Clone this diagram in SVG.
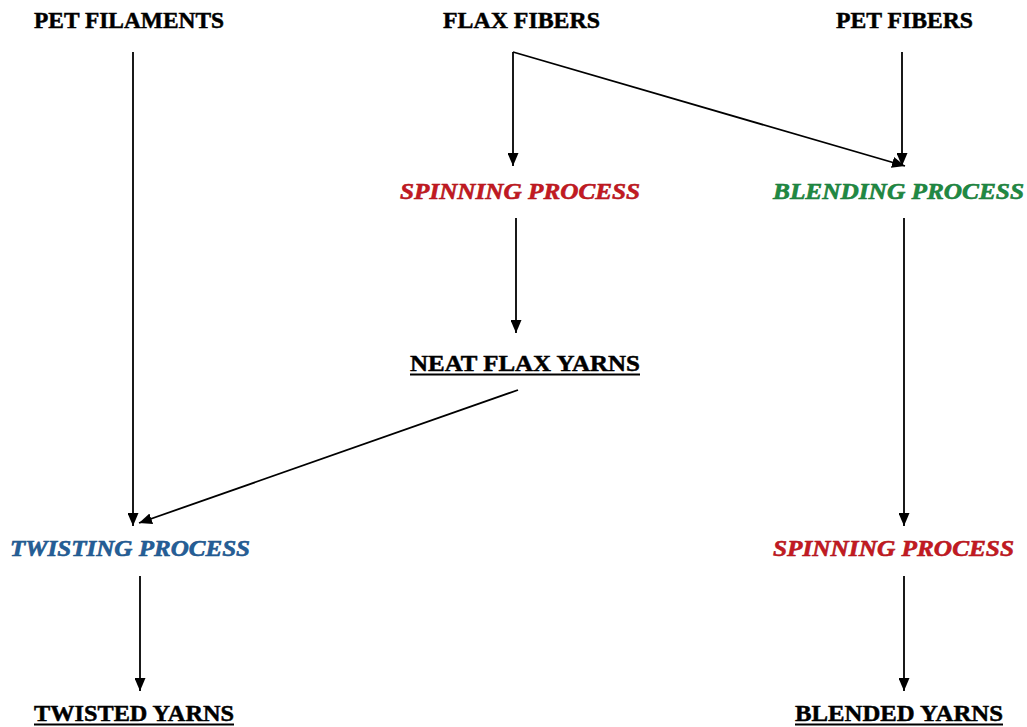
<svg xmlns="http://www.w3.org/2000/svg" width="1027" height="727" viewBox="0 0 1027 727">
<defs>
<style>
.t{font-family:"Liberation Serif","Times New Roman",serif;font-weight:bold;font-size:24px;fill:#000;stroke:#000;stroke-width:0.5}
.p{font-family:"Liberation Serif","Times New Roman",serif;font-weight:bold;font-style:italic;font-size:24px;stroke-width:0.6}
.red{fill:#c41a22;stroke:#b0121a}
.green{fill:#1f8a43;stroke:#177a38}
.blue{fill:#245f98;stroke:#1c5288}
.c{stroke:#000;stroke-width:1.8;fill:none}
.u{stroke:#000;stroke-width:1.8}
</style>
<marker id="ah" viewBox="0 0 13 11" refX="13" refY="5.5" markerWidth="13" markerHeight="11" markerUnits="userSpaceOnUse" orient="auto">
<path d="M0,0 L13,5.5 L0,11 z" fill="#000"/>
</marker>
</defs>
<rect width="1027" height="727" fill="#fff"/>
<g id="connectors">
<line class="c" x1="133" y1="52" x2="133" y2="526" marker-end="url(#ah)"/>
<polyline class="c" points="513,52 905,166" marker-end="url(#ah)"/>
<line class="c" x1="513" y1="52" x2="513" y2="166" marker-end="url(#ah)"/>
<line class="c" x1="902" y1="52" x2="902" y2="166" marker-end="url(#ah)"/>
<line class="c" x1="516" y1="218" x2="516" y2="333" marker-end="url(#ah)"/>
<line class="c" x1="518" y1="390" x2="139" y2="523" marker-end="url(#ah)"/>
<line class="c" x1="904" y1="218" x2="904" y2="526" marker-end="url(#ah)"/>
<line class="c" x1="140" y1="576" x2="140" y2="691" marker-end="url(#ah)"/>
<line class="c" x1="904" y1="576" x2="904" y2="691" marker-end="url(#ah)"/>
</g>
<g id="pet-filaments"><text class="t" x="34" y="28" textLength="190" lengthAdjust="spacingAndGlyphs">PET FILAMENTS</text></g>
<g id="flax-fibers"><text class="t" x="443" y="28" textLength="157" lengthAdjust="spacingAndGlyphs">FLAX FIBERS</text></g>
<g id="pet-fibers"><text class="t" x="836" y="28" textLength="137" lengthAdjust="spacingAndGlyphs">PET FIBERS</text></g>
<g id="spinning-process-1"><text class="p red" x="400" y="199" textLength="240" lengthAdjust="spacingAndGlyphs">SPINNING PROCESS</text></g>
<g id="blending-process"><text class="p green" x="773" y="199" textLength="251" lengthAdjust="spacingAndGlyphs">BLENDING PROCESS</text></g>
<g id="neat-flax-yarns"><text class="t" x="410" y="371" textLength="230" lengthAdjust="spacingAndGlyphs">NEAT FLAX YARNS</text><line class="u" x1="410" y1="374.5" x2="640" y2="374.5"/></g>
<g id="twisting-process"><text class="p blue" x="10" y="556" textLength="240" lengthAdjust="spacingAndGlyphs">TWISTING PROCESS</text></g>
<g id="spinning-process-2"><text class="p red" x="773" y="556" textLength="241" lengthAdjust="spacingAndGlyphs">SPINNING PROCESS</text></g>
<g id="twisted-yarns"><text class="t" x="34" y="721" textLength="200" lengthAdjust="spacingAndGlyphs">TWISTED YARNS</text><line class="u" x1="34" y1="724.5" x2="234" y2="724.5"/></g>
<g id="blended-yarns"><text class="t" x="795" y="721" textLength="208" lengthAdjust="spacingAndGlyphs">BLENDED YARNS</text><line class="u" x1="795" y1="724.5" x2="1003" y2="724.5"/></g>
</svg>
